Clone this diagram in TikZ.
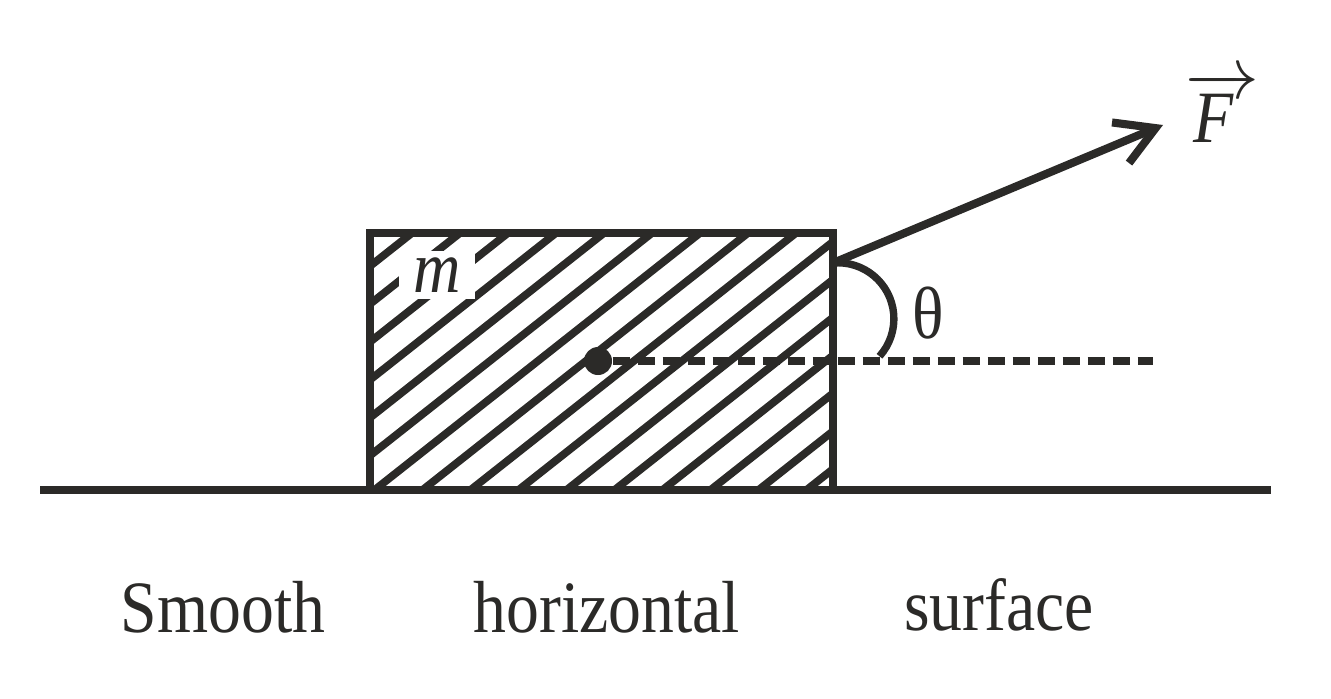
\documentclass[tikz,border=0pt]{standalone}
\usepackage{fix-cm}
\usepackage{fontspec}
\setmainfont[FakeStretch=0.89]{Liberation Serif}
\usetikzlibrary{arrows.meta}
\definecolor{ink}{RGB}{43,42,40}
\tikzset{
	thick line/.style={line width=2.3pt, draw=ink},
	hatch line/.style={line width=2.2pt, draw=ink},
	label text/.style={text=ink, font=\fontsize{21}{25}\selectfont},
}
\begin{document}
\begin{tikzpicture}
\useasboundingbox (0,0) rectangle (13.31,6.98);

% ground
\coordinate (groundL) at (0.40,2.08);
\coordinate (groundR) at (12.71,2.08);
\draw[thick line] (groundL) -- (groundR);

% block
\node[draw=ink, line width=2.3pt, minimum width=4.63cm, minimum height=2.57cm, inner sep=0, outer sep=0] (block) at (6.015,3.365) {};

\begin{scope}
	\clip (block.south west) rectangle (block.north east);
	\foreach \i in {0,...,17} {
		\draw[hatch line] (3.64+\i*0.48,4.65) -- ++(-3.8,-3.0);
	}
\end{scope}

\node[label text, fill=white, inner xsep=4pt, inner ysep=2pt] (mass) at (4.37,4.23) {\textit{m}};

% centre and dashed horizontal
\node[circle, fill=ink, minimum size=0.28cm, inner sep=0] (centre) at (5.98,3.37) {};
\coordinate (dashend) at (11.53,3.37);
\draw[ink, line width=2.2pt, dash pattern=on 0.17cm off 0.08cm] (centre.east) -- (dashend);

% force
\coordinate (push) at (8.33,4.35);
\coordinate (tip) at (11.63,5.73);
\draw[thick line, -{Straight Barb[length=3.8mm,width=4.4mm]}] (push) -- (tip);
\draw[ink, line width=2.1pt] (push) arc[start angle=95, end angle=-42, radius=0.56];

\node[label text] (theta) at (9.28,3.85) {θ};
\node[label text, anchor=base west, inner sep=0] (force) at (11.85,5.55) {$\overrightarrow{\textit{F}\kern0.25em}$};

% labels
\node[label text, anchor=base] (smooth) at (2.23,0.66) {Smooth};
\node[label text, anchor=base] (horiz) at (6.07,0.66) {horizontal};
\node[label text, anchor=base] (surf) at (9.99,0.68) {surface};

\end{tikzpicture}
\end{document}
